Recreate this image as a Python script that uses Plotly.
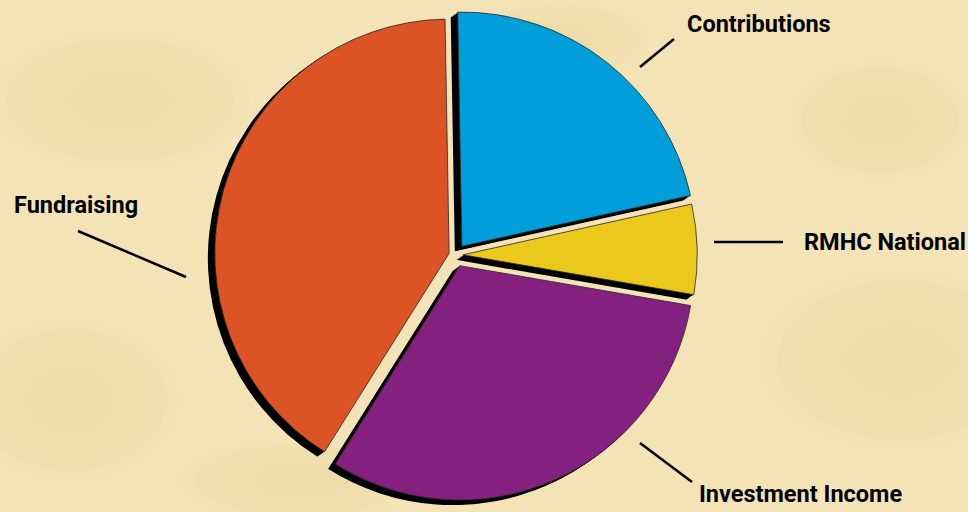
import plotly.graph_objects as go

# ---- data ----
labels = ["Contributions", "RMHC National", "Investment Income", "Fundraising"]
values = [21.8, 6.2, 31.2, 40.8]

# ---- style ----
colors = ["#009EDA", "#EAC81C", "#84207F", "#DC5325"]
pulls = [0.047, 0.034, 0.05, 0.026]
W, H = 968, 512
BG = "#F3E3B6"

cx, cy = 455, 255          # pie centre in px (from top-left)
half = 246                 # half of domain size in px
shadow_dx, shadow_dy = -7, 5
steps = 7


def dom(dx=0.0, dy=0.0):
    x0 = (cx + dx - half) / W
    x1 = (cx + dx + half) / W
    yc = H - (cy + dy)
    y0 = (yc - half) / H
    y1 = (yc + half) / H
    return dict(x=[x0, x1], y=[y0, y1])


fig = go.Figure()

# extruded black shadow
for k in range(steps, 0, -1):
    fig.add_trace(go.Pie(
        labels=labels, values=values, sort=False, direction="clockwise",
        rotation=-1, pull=pulls, textinfo="none", hoverinfo="skip",
        marker=dict(colors=["#000000"] * len(values), line=dict(width=0)),
        domain=dom(shadow_dx * k / steps, shadow_dy * k / steps),
        showlegend=False,
    ))

# main pie
fig.add_trace(go.Pie(
    labels=labels, values=values, sort=False, direction="clockwise",
    rotation=-1, pull=pulls, textinfo="none",
    marker=dict(colors=colors, line=dict(color="#2a2a2a", width=0.8)),
    domain=dom(), showlegend=False,
))

font = dict(family="Roboto, Liberation Sans, Arial", size=23.5, color="#000000")

label_pos = {
    "Contributions": (685, 24, "left"),
    "RMHC National": (802, 242, "left"),
    "Fundraising": (12, 205, "left"),
    "Investment Income": (697, 494, "left"),
}
leader = {
    "Contributions": ((640, 67), (674, 39)),
    "RMHC National": ((714, 242), (783, 242)),
    "Fundraising": ((78, 231), (186, 277)),
    "Investment Income": ((640, 443), (692, 482)),
}

annotations = []
shapes = []

# soft parchment blotches (background decoration)
blotches = [(120, 100, 130, 70), (900, 360, 140, 90), (70, 400, 110, 80),
            (560, 40, 90, 40), (300, 480, 120, 40), (880, 120, 90, 60)]
layers = [1.0, 0.88, 0.76, 0.64, 0.52, 0.40, 0.28]
for (bx, by, rx, ry) in blotches:
    for s in layers:
        shapes.append(dict(
            type="circle", xref="paper", yref="paper", layer="below",
            x0=(bx - rx * s) / W, x1=(bx + rx * s) / W,
            y0=1 - (by + ry * s) / H, y1=1 - (by - ry * s) / H,
            fillcolor="#E9C985", opacity=0.035, line=dict(width=0),
        ))

for lab in labels:
    x, y, anchor = label_pos[lab]
    annotations.append(dict(
        text="<b>%s</b>" % lab, x=x / W, y=1 - y / H, xref="paper", yref="paper",
        xanchor=anchor, yanchor="middle", showarrow=False, font=font,
    ))
    (x0, y0), (x1, y1) = leader[lab]
    shapes.append(dict(
        type="line", xref="paper", yref="paper",
        x0=x0 / W, y0=1 - y0 / H, x1=x1 / W, y1=1 - y1 / H,
        line=dict(color="#000000", width=2.5),
    ))

fig.update_layout(
    width=W, height=H,
    margin=dict(l=0, r=0, t=0, b=0),
    paper_bgcolor=BG, plot_bgcolor=BG,
    annotations=annotations, shapes=shapes,
)

fig.write_html("out.html", config={"displayModeBar": False})
